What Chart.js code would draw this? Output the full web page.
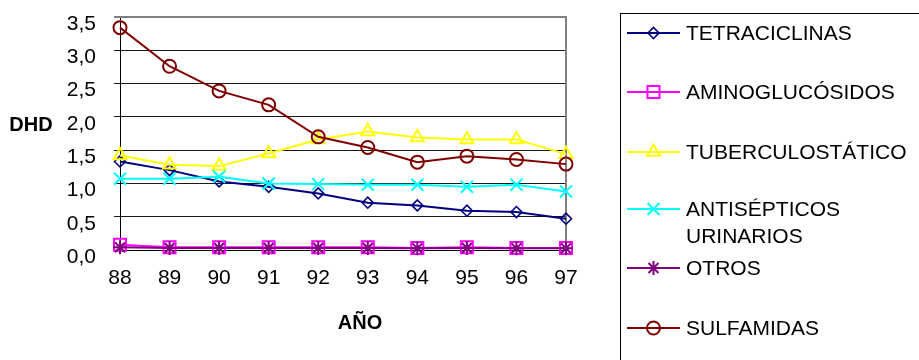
<!DOCTYPE html>
<html>
<head>
<meta charset="utf-8">
<script src="https://cdn.jsdelivr.net/npm/chart.js@4/dist/chart.umd.min.js"></script>
<style>
  html, body { margin: 0; padding: 0; background: #fff; }
  #wrap { position: relative; width: 919px; height: 360px; }
</style>
</head>
<body>
<div id="wrap"><canvas id="c"></canvas></div>
<script>
// Consumo por grupo terapéutico (DHD), 1988-1997
const years = ['88', '89', '90', '91', '92', '93', '94', '95', '96', '97'];
const tetraciclinas    = [1.33, 1.20, 1.03, 0.95, 0.85, 0.71, 0.67, 0.59, 0.57, 0.47];
const aminoglucosidos  = [0.08, 0.04, 0.04, 0.04, 0.04, 0.04, 0.03, 0.04, 0.03, 0.03];
const tuberculostatico = [1.42, 1.28, 1.26, 1.45, 1.66, 1.78, 1.69, 1.66, 1.66, 1.44];
const antisepticos     = [1.07, 1.07, 1.10, 1.00, 0.99, 0.98, 0.98, 0.95, 0.98, 0.88];
const otros            = [0.04, 0.03, 0.03, 0.03, 0.03, 0.03, 0.025, 0.03, 0.025, 0.025];
const sulfamidas       = [3.34, 2.76, 2.39, 2.18, 1.70, 1.54, 1.32, 1.41, 1.36, 1.29];
const seriesNames = ['TETRACICLINAS', 'AMINOGLUCÓSIDOS', 'TUBERCULOSTÁTICO',
                     'ANTISÉPTICOS URINARIOS', 'OTROS', 'SULFAMIDAS'];
const yTickLabels = ['0,0', '0,5', '1,0', '1,5', '2,0', '2,5', '3,0', '3,5'];
const yTitle = 'DHD';
const xTitle = 'AÑO';

const FONT = "'Liberation Sans', Arial, Helvetica, sans-serif";

const styles = [
  { color: '#000080', pointStyle: 'rectRot',  radius: 5.5, lw: 1.6 },
  { color: '#FF00FF', pointStyle: 'rect',     radius: 8.5, lw: 2 },
  { color: '#FFFF00', pointStyle: 'triangle', radius: 7.5, lw: 2 },
  { color: '#00FFFF', pointStyle: 'crossRot', radius: 8.5, lw: 2 },
  { color: '#800080', pointStyle: 'star',     radius: 7,   lw: 2 },
  { color: '#800000', pointStyle: 'circle',   radius: 6.5, lw: 2 }
];
const seriesValues = [tetraciclinas, aminoglucosidos, tuberculostatico, antisepticos, otros, sulfamidas];

const datasets = seriesValues.map((vals, i) => ({
  label: seriesNames[i],
  data: vals,
  borderColor: styles[i].color,
  backgroundColor: 'rgba(0,0,0,0)',
  borderWidth: 2,
  pointStyle: styles[i].pointStyle,
  pointRadius: styles[i].radius,
  pointBorderWidth: styles[i].lw,
  pointBorderColor: styles[i].color,
  pointBackgroundColor: 'rgba(0,0,0,0)',
  tension: 0,
  clip: false,
  order: seriesValues.length - 1 - i
}));

// Legend rows (marker line centre y)
const legendRows = [33, 92, 152, 209, 268, 328];

const decorPlugin = {
  id: 'decor',
  beforeDatasetsDraw(chart) {
    const { ctx, chartArea: a } = chart;
    ctx.save();
    ctx.strokeStyle = '#808080';
    ctx.lineWidth = 2;
    ctx.beginPath();
    ctx.moveTo(a.left, a.top);
    ctx.lineTo(a.right, a.top);
    ctx.lineTo(a.right, a.bottom);
    ctx.stroke();
    ctx.restore();
  },
  afterDraw(chart) {
    const { ctx } = chart;
    ctx.save();
    // axis titles
    ctx.fillStyle = '#000';
    ctx.font = 'bold 20px ' + FONT;
    ctx.textAlign = 'center';
    ctx.textBaseline = 'middle';
    ctx.fillText(yTitle, 31, 125);
    ctx.fillText(xTitle, 360, 323);

    // legend box
    ctx.strokeStyle = '#000';
    ctx.lineWidth = 1;
    ctx.strokeRect(620.5, 13.5, 400, 400);

    ctx.font = '21px ' + FONT;
    ctx.textAlign = 'left';
    const maxW = 226;
    chart.data.datasets.forEach((ds, i) => {
      const y = legendRows[i];
      ctx.strokeStyle = ds.borderColor;
      ctx.lineWidth = 2;
      ctx.beginPath();
      ctx.moveTo(627, y);
      ctx.lineTo(680, y);
      ctx.stroke();
      ctx.fillStyle = 'rgba(0,0,0,0)';
      ctx.lineWidth = ds.pointBorderWidth;
      Chart.helpers.drawPoint(ctx, {
        pointStyle: ds.pointStyle,
        radius: ds.pointRadius,
        rotation: 0,
        borderWidth: ds.pointBorderWidth
      }, 653.5, y);

      // word wrap
      const words = ds.label.split(' ');
      const lines = [];
      let cur = '';
      words.forEach(w => {
        const t = cur ? cur + ' ' + w : w;
        if (ctx.measureText(t).width > maxW && cur) { lines.push(cur); cur = w; }
        else cur = t;
      });
      lines.push(cur);
      ctx.fillStyle = '#000';
      lines.forEach((ln, k) => ctx.fillText(ln, 686, y + 1 + k * 27));
    });
    ctx.restore();
  }
};

new Chart(document.getElementById('c'), {
  type: 'line',
  data: { labels: years, datasets },
  options: {
    responsive: true,
    maintainAspectRatio: false,
    animation: false,
    events: [],
    layout: { padding: { left: 0, top: 17, right: 353, bottom: 0 } },
    plugins: { legend: { display: false }, tooltip: { enabled: false } },
    scales: {
      x: {
        type: 'category',
        offset: false,
        grid: { display: false, drawTicks: false },
        border: { display: true, color: '#000', width: 1 },
        ticks: { color: '#000', font: { family: FONT, size: 21 }, padding: 16, maxRotation: 0, autoSkip: false },
        afterFit: s => { s.height = 110; s.paddingLeft = 0; s.paddingRight = 0; }
      },
      y: {
        min: 0,
        max: 3.5,
        ticks: {
          stepSize: 0.5,
          color: '#000',
          font: { family: FONT, size: 21 },
          padding: 18,
          labelOffset: 7,
          callback: v => yTickLabels[Math.round(v / 0.5)]
        },
        grid: {
          color: c => (c.index === 7 ? '#808080' : '#1a1a1a'),
          lineWidth: c => (c.index === 7 ? 2 : 1),
          tickLength: 6,
          drawTicks: true
        },
        border: { display: true, color: '#000', width: 1 },
        afterFit: s => { s.width = 120; s.paddingTop = 0; s.paddingBottom = 0; }
      }
    }
  },
  plugins: [decorPlugin]
});
</script>
</body>
</html>
